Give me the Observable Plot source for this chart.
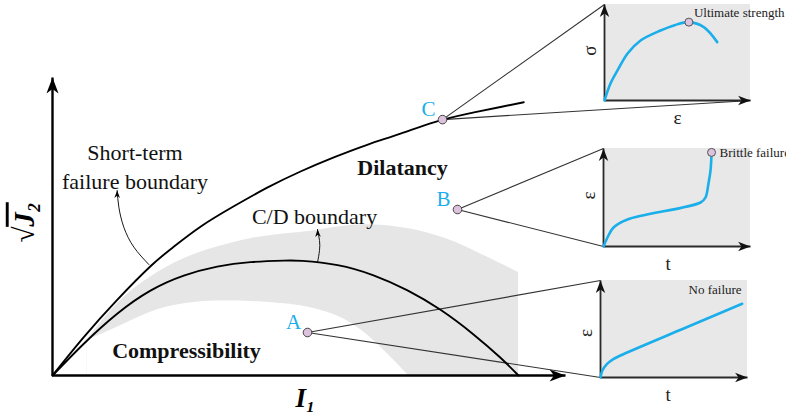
<!DOCTYPE html>
<html>
<head>
<meta charset="utf-8">
<script src="https://cdn.jsdelivr.net/npm/d3@7"></script>
<script src="https://cdn.jsdelivr.net/npm/@observablehq/plot@0.6"></script>
<style>
  html, body { margin: 0; padding: 0; background: #fff; }
</style>
</head>
<body>
<div id="chart"></div>
<script>
// ---- Main diagram data (I1 and sqrt(J2), arbitrary units 0..100) ----
const failureI = [0, 6.26, 12.94, 19.6, 24, 29.6, 36.26, 42.94, 49.6, 56.26, 62.94, 69.6, 76.26, 82.94, 89.6, 94.26];
const failureJ = [0, 12.8, 25.2, 36.4, 42.6, 49.6, 56.4, 62.6, 68.0, 72.7, 76.9, 80.6, 84.4, 87.2, 89.5, 91.1];

const cdI = [0, 6.26, 12.94, 19.6, 26.26, 32.94, 39.6, 46.26, 50, 57, 64.2, 71, 77.6, 84.2, 89.6, 93.2];
const cdJ = [0, 10.6, 20.6, 28.3, 33.3, 36.3, 37.8, 38.3, 38.2, 36.8, 33.4, 28.4, 21.9, 13.7, 5.9, 0];

const bandOuterI = [6.9, 12.94, 19.6, 26.26, 32.94, 39.6, 46.26, 51.6, 57.6, 64, 71, 78, 84.2, 93.2];
const bandOuterJ = [11.7, 23.9, 32.8, 38.9, 42.8, 45.6, 47.2, 48.1, 49.6, 50.2, 49, 46, 41.7, 34.3];
const bandInnerI = [6.9, 12.94, 19.6, 26.26, 32.94, 39.6, 46.26, 50.94, 57.6, 64.2, 71.2];
const bandInnerJ = [11.7, 16.1, 21.1, 23.9, 24.8, 24.7, 23.9, 22.8, 19.3, 11.7, 0];

const failureLeaderI = [19.27, 16.27, 14.27, 13.27, 12.93];
const failureLeaderJ = [37.0, 42.8, 49.4, 56.1, 61.67];
const cdLeaderI = [53, 53.4, 53.4, 53];
const cdLeaderJ = [37.67, 41.67, 45, 48.67];

const stateNames = ["A", "B", "C"];
const stateI = [51, 81, 78];
const stateJ = [14.33, 55.33, 85.3];

// ---- Inset curves (local units 0..10) ----
const strainC = [0, 0.41, 0.89, 1.58, 2.47, 3.84, 4.8, 5.78, 6.8, 7.72];
const stressC = [0, 1.77, 3.13, 4.9, 6.25, 7.29, 7.85, 8.16, 7.64, 6.08];
const timeB = [0, 0.27, 0.68, 1.63, 6.6, 6.94, 7.14, 7.28, 7.35];
const strainB = [0, 0.92, 1.94, 2.76, 4.49, 5.0, 6.43, 7.76, 9.49];
const timeA = [0, 0.12, 0.45, 0.9, 1.36, 5.5, 9.64];
const strainA = [0, 0.7, 1.41, 1.92, 2.27, 4.95, 7.6];

const insetNames = ["C", "B", "A"];
const insetYLabels = ["σ", "ε", "ε"];
const insetXLabels = ["ε", "t", "t"];
const failureNames = ["Ultimate strength", "Brittle failure", "No failure"];
const failureT = [5.78, 7.35, 9.6];
const failureV = [8.16, 9.6, 9.07];

// ---- Layout (frames of the insets, in main-diagram units) ----
const frames = {
  C: {x0: 110.4, y0: 91.67, w: 29.2, h: 32, lowEnd: "right", xl: 5.0, yl: 5.2},
  B: {x0: 110.2, y0: 43, w: 29.4, h: 32.67, lowEnd: "origin", xl: 4.4, yl: 5.2},
  A: {x0: 109.6, y0: -0.67, w: 29.4, h: 32.33, lowEnd: "origin", xl: 4.6, yl: 4.6}
};
const toMain = (f, u, v) => ({x: f.x0 + u / 10 * f.w, y: f.y0 + v / 10 * f.h});

const zip = (xs, ys) => xs.map((x, i) => ({x, y: ys[i]}));
const failure = zip(failureI, failureJ);
const cd = zip(cdI, cdJ);
const bandOuter = zip(bandOuterI, bandOuterJ);
const bandInner = zip(bandInnerI, bandInnerJ);
const failureLeader = zip(failureLeaderI, failureLeaderJ);
const cdLeader = zip(cdLeaderI, cdLeaderJ);
const states = stateNames.map((n, i) => ({name: n, x: stateI[i], y: stateJ[i]}));

const insetCurves = [
  ...zip(strainC, stressC).map(d => ({k: "C", ...toMain(frames.C, d.x, d.y)})),
  ...zip(timeB, strainB).map(d => ({k: "B", ...toMain(frames.B, d.x, d.y)})),
  ...zip(timeA, strainA).map(d => ({k: "A", ...toMain(frames.A, d.x, d.y)}))
];
const insetFrames = insetNames.map(n => {
  const f = frames[n];
  return {name: n, x1: f.x0, x2: f.x0 + f.w, y1: f.y0, y2: f.y0 + f.h};
});
const insetFailure = insetNames.map((n, i) => ({name: n, label: failureNames[i], ...toMain(frames[n], failureT[i], failureV[i])}));
const connectors = [];
states.forEach(s => {
  const f = frames[s.name];
  connectors.push({x1: s.x, y1: s.y, x2: f.x0, y2: f.y0 + f.h});
  if (f.lowEnd === "right") connectors.push({x1: s.x, y1: s.y, x2: f.x0 + f.w, y2: f.y0});
  else connectors.push({x1: s.x, y1: s.y, x2: f.x0, y2: f.y0});
});
const insetAxes = [];
const insetHeads = [];
insetNames.forEach(n => {
  const f = frames[n];
  insetAxes.push({x1: f.x0, y1: f.y0, x2: f.x0, y2: f.y0 + f.h});
  insetAxes.push({x1: f.x0, y1: f.y0, x2: f.x0 + f.w, y2: f.y0});
  insetHeads.push({x: f.x0, y: f.y0 + f.h, rot: 0});
  insetHeads.push({x: f.x0 + f.w, y: f.y0, rot: 90});
});
const insetYLab = insetNames.map((n, i) => ({label: insetYLabels[i], ...toMain(frames[n], 0, frames[n].yl)}));
const insetXLab = insetNames.map((n, i) => ({label: insetXLabels[i], ...toMain(frames[n], frames[n].xl, 0)}));

const xTip = 102.6, yTip = 99.3;
const mainAxes = [{x1: 0, y1: 0, x2: 0, y2: yTip}, {x1: 0, y1: 0, x2: xTip, y2: 0}];
const mainHeads = [{x: 0, y: yTip, rot: 0}, {x: xTip, y: 0, rot: 90}];
const leaderHeads = [{x: 12.93, y: 61.67, rot: 0}, {x: 53, y: 48.67, rot: -4}];

const HEAD = {
  draw(ctx, size) {
    const L = Math.sqrt(size);
    ctx.moveTo(0, 0);
    ctx.lineTo(0.38 * L, L);
    ctx.lineTo(0, 0.72 * L);
    ctx.lineTo(-0.38 * L, L);
    ctx.closePath();
  }
};

const BLUE = "#1aaeea";
const SERIF = "'Liberation Serif', 'Times New Roman', Times, serif";
const PINK = "#dcc2dc";

const chart = Plot.plot({
  width: 786,
  height: 416,
  margin: 0,
  x: {domain: [-10.4, 146.8], axis: null},
  y: {domain: [-13.667, 125], axis: null},
  style: {background: "white", overflow: "visible", fontFamily: SERIF},
  marks: [
    // band
    Plot.areaY(bandOuter, {x: "x", y1: 0, y2: "y", fill: "#e6e6e6", curve: "natural"}),
    Plot.areaY(bandInner, {x: "x", y1: 0, y2: "y", fill: "white", curve: "natural"}),
    // inset backgrounds
    Plot.rect(insetFrames, {x1: "x1", x2: "x2", y1: "y1", y2: "y2", fill: "#e8e8e8"}),
    // connectors
    Plot.link(connectors, {x1: "x1", y1: "y1", x2: "x2", y2: "y2", stroke: "#333", strokeWidth: 1.1}),
    // main axes
    Plot.link(mainAxes, {x1: "x1", y1: "y1", x2: "x2", y2: "y2", stroke: "black", strokeWidth: 2.4}),
    Plot.dot(mainHeads, {x: "x", y: "y", rotate: "rot", symbol: HEAD, r: 9, fill: "black", stroke: "none"}),
    // boundaries
    Plot.line(failure, {x: "x", y: "y", stroke: "black", strokeWidth: 1.9, curve: "natural"}),
    Plot.line(cd, {x: "x", y: "y", stroke: "black", strokeWidth: 1.9, curve: "natural"}),
    // leaders
    Plot.line(failureLeader, {x: "x", y: "y", stroke: "black", strokeWidth: 0.9, curve: "natural"}),
    Plot.line(cdLeader, {x: "x", y: "y", stroke: "black", strokeWidth: 0.9, curve: "natural"}),
    Plot.dot(leaderHeads, {x: "x", y: "y", rotate: "rot", symbol: HEAD, r: 4.2, fill: "black", stroke: "none"}),
    // inset axes
    Plot.link(insetAxes, {x1: "x1", y1: "y1", x2: "x2", y2: "y2", stroke: "#2a2a2a", strokeWidth: 1.8}),
    Plot.dot(insetHeads, {x: "x", y: "y", rotate: "rot", symbol: HEAD, r: 7, fill: "#111", stroke: "none"}),
    // inset curves
    Plot.line(insetCurves, {x: "x", y: "y", z: "k", stroke: BLUE, strokeWidth: 2.6, curve: "catmull-rom"}),
    Plot.dot(insetFailure.filter(d => d.name !== "A"), {x: "x", y: "y", r: 4, fill: PINK, stroke: "#555", strokeWidth: 1}),
    Plot.text(insetFailure.filter(d => d.name === "C"), {x: "x", y: "y", text: "label", dx: 5, dy: -9, textAnchor: "start", fontFamily: SERIF, fontSize: 13, fill: "#222"}),
    Plot.text(insetFailure.filter(d => d.name === "B"), {x: "x", y: "y", text: "label", dx: 8, dy: 0, textAnchor: "start", fontFamily: SERIF, fontSize: 13, fill: "#222"}),
    Plot.text(insetFailure.filter(d => d.name === "A"), {x: "x", y: "y", text: "label", textAnchor: "end", fontFamily: SERIF, fontSize: 13, fill: "#222"}),
    Plot.text(insetYLab, {x: "x", y: "y", text: "label", dx: -15, rotate: -90, fontFamily: SERIF, fontSize: 19, fill: "#222"}),
    Plot.text(insetXLab, {x: "x", y: "y", text: "label", dy: 17, fontFamily: SERIF, fontSize: 19, fill: "#222"}),
    // states
    Plot.dot(states, {x: "x", y: "y", r: 4.3, fill: PINK, stroke: "#444", strokeWidth: 1}),
    Plot.text(states, {x: "x", y: "y", text: "name", dx: -14, dy: -10, fontFamily: SERIF, fontSize: 21, fill: BLUE}),
    // region labels
    Plot.text(["Short-term\nfailure boundary"], {x: 16.5, y: 70.2, text: d => d, fontFamily: SERIF, fontSize: 22, lineHeight: 1.32, fill: "#111"}),
    Plot.text(["C/D boundary"], {x: 52.4, y: 53, text: d => d, fontFamily: SERIF, fontSize: 22, fill: "#111"}),
    Plot.text(["Dilatancy"], {x: 70, y: 69.33, text: d => d, fontFamily: SERIF, fontSize: 22, fontWeight: "bold", fill: "#111"}),
    Plot.text(["Compressibility"], {x: 26.8, y: 8.33, text: d => d, fontFamily: SERIF, fontSize: 22, fontWeight: "bold", fill: "#111"}),
    // axis titles
    Plot.text(["I₁"], {x: 50.6, y: -7.67, text: d => d, fontFamily: SERIF, fontSize: 27, fontWeight: "bold", fontStyle: "italic", fill: "#000"}),
    Plot.text(["√J₂"], {x: -5.6, y: 51, text: d => d, rotate: -90, fontFamily: SERIF, fontSize: 29, fontWeight: "bold", fontStyle: "italic", fill: "#000"})
  ]
});
document.getElementById("chart").appendChild(chart);

// overline (vinculum) over J₂ in the y-axis title
d3.select(chart).selectAll("text").filter(function() { return this.textContent === "√J₂"; })
  .each(function() {
    const t = d3.select(this);
    t.text("");
    t.append("tspan").text("√");
    t.append("tspan").style("text-decoration", "overline").text("J₂");
  });
</script>
</body>
</html>
